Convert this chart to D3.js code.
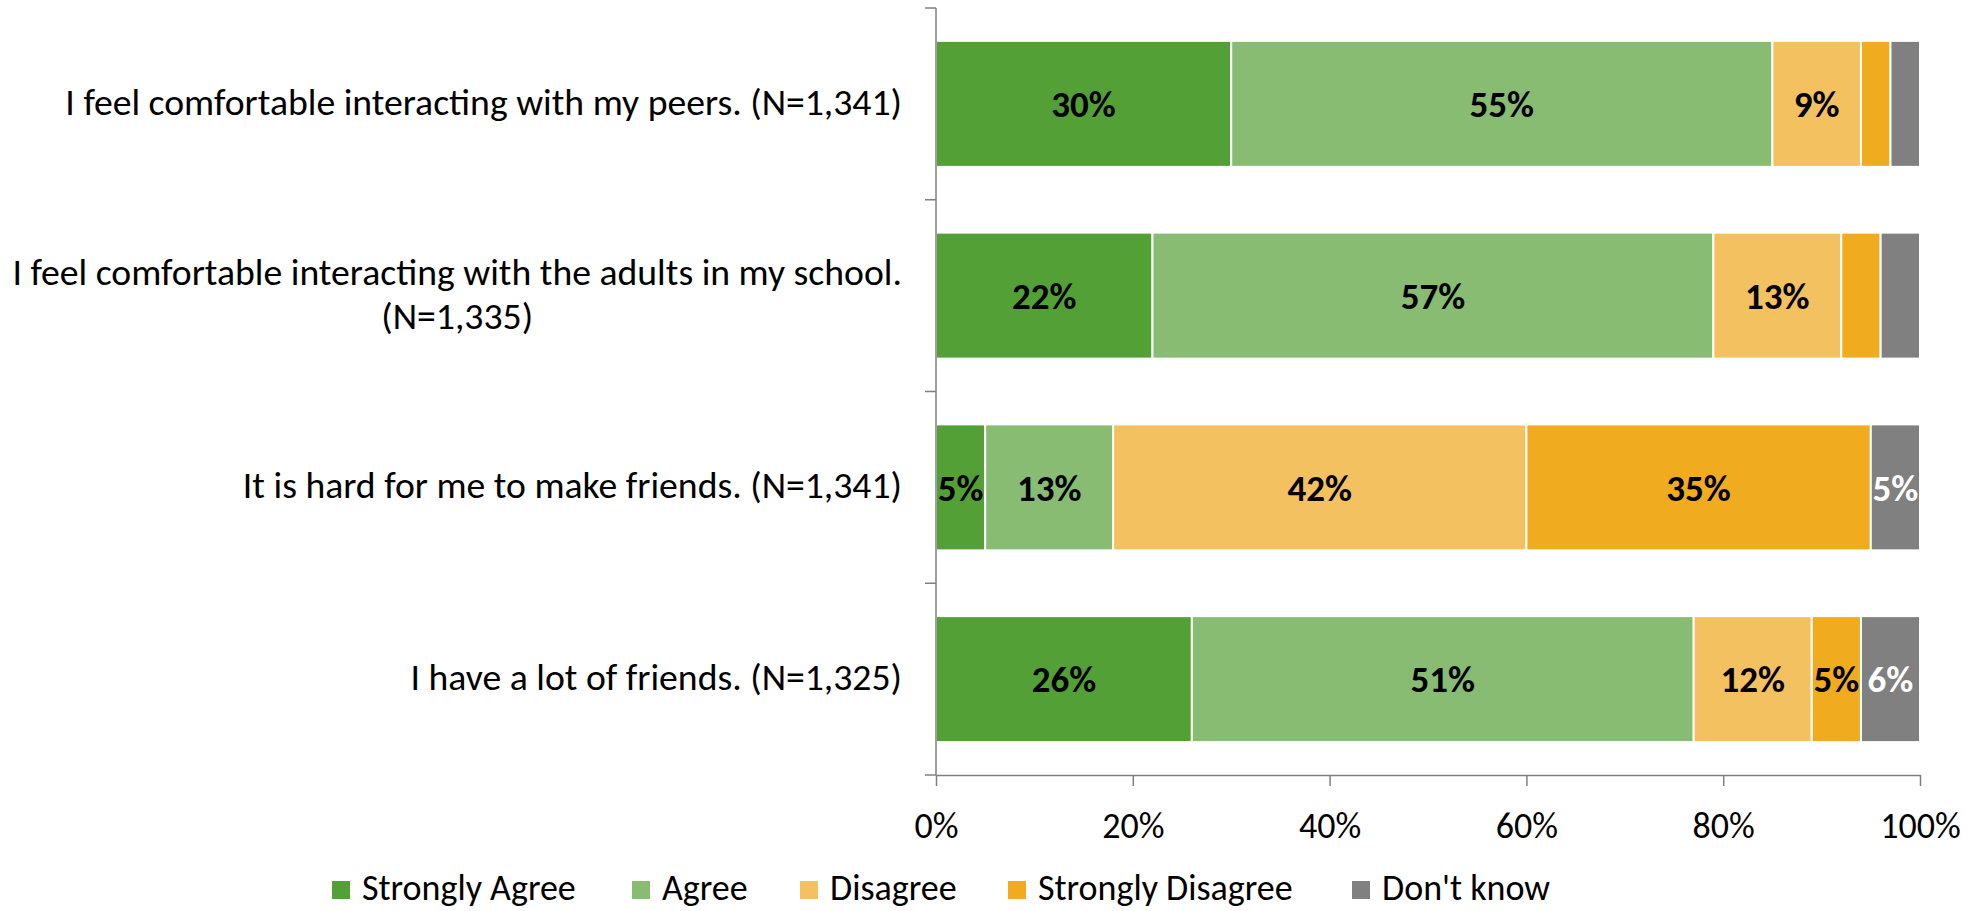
<!DOCTYPE html>
<html>
<head>
<meta charset="utf-8">
<script src="https://cdn.jsdelivr.net/npm/d3@7"></script>
<style>
  html, body { margin: 0; padding: 0; background: #fff; }
  svg { display: block; }
</style>
</head>
<body>
<svg id="chart" width="1980" height="911"></svg>
<script>
const categories = [
  ["I feel comfortable interacting with my peers. (N=1,341)"],
  ["I feel comfortable interacting with the adults in my school.", "(N=1,335)"],
  ["It is hard for me to make friends. (N=1,341)"],
  ["I have a lot of friends. (N=1,325)"]
];
const seriesNames = ["Strongly Agree", "Agree", "Disagree", "Strongly Disagree", "Don't know"];
const stronglyAgree    = [30, 22, 5, 26];
const agree            = [55, 57, 13, 51];
const disagree         = [9, 13, 42, 12];
const stronglyDisagree = [3, 4, 35, 5];
const dontKnow         = [3, 4, 5, 6];
const xTicks = [0, 20, 40, 60, 80, 100];
const colors = ["#53A036", "#88BC73", "#F3C160", "#F0AB1E", "#808080"];
const labelColors = ["#000", "#000", "#000", "#000", "#fff"];

// pick an installed narrow font
function hasFont(name) {
  const c = document.createElement("canvas").getContext("2d");
  const s = "I feel comfortable interacting 0123456789%";
  c.font = "36px monospace"; const a = c.measureText(s).width;
  c.font = `36px '${name}', monospace`; const b = c.measureText(s).width;
  return a !== b;
}
const fontCandidates = ["Carlito", "Liberation Sans Narrow", "DejaVu Sans Condensed", "Open Sans"];
const FONT = (fontCandidates.find(hasFont) || "Open Sans");
const FONT_STACK = `'${FONT}', 'Liberation Sans', sans-serif`;

const rows = categories.map((c, i) => ({
  key: i,
  vals: [stronglyAgree[i], agree[i], disagree[i], stronglyDisagree[i], dontKnow[i]]
}));

const svg = d3.select("#chart");
const x = d3.scaleLinear().domain([0, 100]).range([936, 1920]);
const y = d3.scaleBand().domain(rows.map(r => r.key)).range([8, 775]).paddingInner(0.343).paddingOuter(0.343 / 2);

const axisColor = "#7f7f7f";
const fs = 36;
const fsY = 37.7;

// bars
rows.forEach(r => {
  let cum = 0;
  r.vals.forEach((v, j) => {
    const x0 = cum, x1 = cum + v;
    cum = x1;
    svg.append("rect")
      .attr("x", x(x0)).attr("width", x(x1) - x(x0))
      .attr("y", y(r.key)).attr("height", y.bandwidth())
      .attr("fill", colors[j])
      .attr("stroke", "#fff").attr("stroke-width", 2);
    if (v >= 5) {
      svg.append("text")
        .attr("x", (x(x0) + x(x1)) / 2)
        .attr("y", y(r.key) + y.bandwidth() / 2)
        .attr("dy", "0.36em")
        .attr("text-anchor", "middle")
        .attr("font-family", FONT_STACK)
        .attr("font-weight", "bold")
        .attr("font-size", 37)
        .attr("fill", labelColors[j])
        .text(v + "%");
    }
  });
});

// y axis
const yAxisG = svg.append("g");
yAxisG.append("line").attr("x1", x(0)).attr("x2", x(0)).attr("y1", 8).attr("y2", 775)
  .attr("stroke", axisColor).attr("stroke-width", 1.5);
const yTickPos = rows.map(r => y(r.key) - y.step() * 0.343 / 2).concat([775]);
yTickPos.forEach(p => {
  yAxisG.append("line").attr("x1", x(0) - 11).attr("x2", x(0)).attr("y1", p).attr("y2", p)
    .attr("stroke", axisColor).attr("stroke-width", 1.5);
});

// y labels
rows.forEach((r, i) => {
  const lines = categories[i];
  const cy = y(r.key) + y.bandwidth() / 2;
  const lh = 44;
  const t = svg.append("text")
    .attr("font-family", FONT_STACK)
    .attr("font-size", fsY)
    .attr("fill", "#000");
  if (lines.length === 1) {
    t.attr("x", 902).attr("y", cy + 11).attr("text-anchor", "end").text(lines[0]);
  } else {
    const tmp = t.append("tspan").text(lines[0]);
    const w = tmp.node().getComputedTextLength();
    tmp.remove();
    const cx = 902 - w / 2;
    lines.forEach((ln, k) => {
      t.append("tspan").attr("x", cx).attr("text-anchor", "middle")
        .attr("y", cy + 11 + (k - (lines.length - 1) / 2) * lh).text(ln);
    });
  }
});

// x axis
const xAxis = d3.axisBottom(x).tickValues(xTicks).tickFormat(d => d + "%").tickSizeInner(11).tickSizeOuter(0).tickPadding(26);
const xg = svg.append("g").attr("transform", "translate(0,775)").call(xAxis);
xg.select(".domain").attr("stroke", axisColor).attr("stroke-width", 1.5);
xg.selectAll(".tick line").attr("stroke", axisColor).attr("stroke-width", 1.5);
xg.selectAll(".tick text").attr("font-family", FONT_STACK).attr("font-size", fs).attr("fill", "#000");

// legend
const legendX = [332, 632, 800, 1008, 1352];
const lg = svg.append("g");
seriesNames.forEach((n, j) => {
  lg.append("rect").attr("x", legendX[j]).attr("y", 881).attr("width", 18).attr("height", 18).attr("fill", colors[j]);
  lg.append("text").attr("x", legendX[j] + 30).attr("y", 900)
    .attr("font-family", FONT_STACK).attr("font-size", fs).attr("fill", "#000").text(n);
});
</script>
</body>
</html>
